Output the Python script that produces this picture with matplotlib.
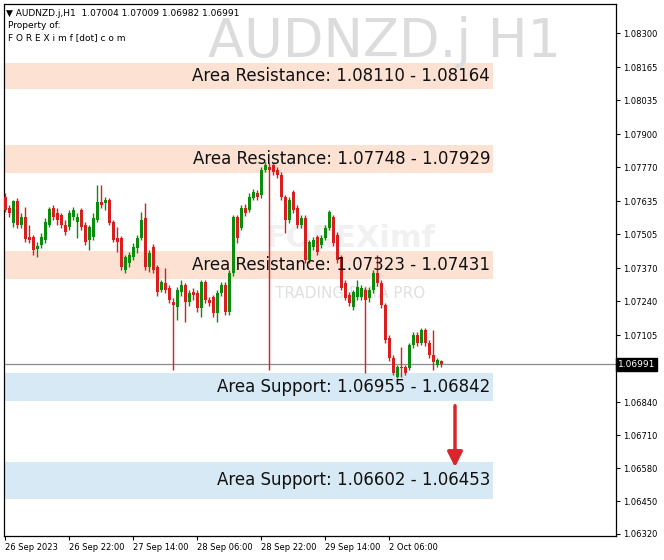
import matplotlib.pyplot as plt
import numpy as np

# hourly candles, 26 Sep 2023 06:00 -> 2 Oct 2023 19:00
opens = [1.07652, 1.07608, 1.07549, 1.07636, 1.07541, 1.07573, 1.07494, 1.07494, 1.07446, 1.07462,
         1.07482, 1.07541, 1.07608, 1.07589, 1.07581, 1.07541, 1.07533, 1.07573, 1.07553, 1.07601,
         1.07541, 1.07482, 1.07494, 1.07561, 1.07632, 1.07628, 1.07640, 1.07553, 1.07490, 1.07490,
         1.07363, 1.07391, 1.07415, 1.07450, 1.07490, 1.07569, 1.07375, 1.07454, 1.07375, 1.07284,
         1.07312, 1.07292, 1.07237, 1.07217, 1.07276, 1.07304, 1.07237, 1.07276, 1.07272, 1.07213,
         1.07316, 1.07245, 1.07257, 1.07193, 1.07272, 1.07304, 1.07197, 1.07352, 1.07573, 1.07529,
         1.07608, 1.07601, 1.07648, 1.07668, 1.07660, 1.07759, 1.07770, 1.07778, 1.07759, 1.07739,
         1.07652, 1.07561, 1.07672, 1.07608, 1.07541, 1.07569, 1.07403, 1.07454, 1.07494, 1.07462,
         1.07490, 1.07529, 1.07573, 1.07502, 1.07415, 1.07312, 1.07265, 1.07217, 1.07257, 1.07257,
         1.07284, 1.07253, 1.07284, 1.07352, 1.07312, 1.07225, 1.07095, 1.07016, 1.06940, 1.06980,
         1.06980, 1.06976, 1.07067, 1.07107, 1.07075, 1.07126, 1.07075, 1.07027, 1.06988, 1.07004]
highs = [1.07668, 1.07620, 1.07640, 1.07648, 1.07589, 1.07612, 1.07541, 1.07502, 1.07474, 1.07510,
         1.07569, 1.07612, 1.07620, 1.07608, 1.07589, 1.07561, 1.07601, 1.07612, 1.07589, 1.07608,
         1.07553, 1.07541, 1.07589, 1.07699, 1.07699, 1.07652, 1.07648, 1.07561, 1.07533, 1.07498,
         1.07423, 1.07435, 1.07470, 1.07502, 1.07593, 1.07628, 1.07442, 1.07466, 1.07383, 1.07324,
         1.07371, 1.07304, 1.07253, 1.07296, 1.07324, 1.07312, 1.07284, 1.07292, 1.07284, 1.07324,
         1.07324, 1.07257, 1.07265, 1.07284, 1.07316, 1.07316, 1.07363, 1.07581, 1.07581, 1.07620,
         1.07624, 1.07668, 1.07683, 1.07680, 1.07770, 1.07790, 1.07786, 1.07786, 1.07770, 1.07751,
         1.07660, 1.07652, 1.07680, 1.07620, 1.07581, 1.07581, 1.07482, 1.07494, 1.07502, 1.07502,
         1.07541, 1.07601, 1.07581, 1.07514, 1.07423, 1.07324, 1.07276, 1.07284, 1.07324, 1.07304,
         1.07296, 1.07296, 1.07363, 1.07423, 1.07324, 1.07233, 1.07107, 1.07027, 1.06988, 1.07059,
         1.06988, 1.07075, 1.07118, 1.07118, 1.07134, 1.07134, 1.07087, 1.07126, 1.07016, 1.07009]
lows = [1.07593, 1.07573, 1.07533, 1.07529, 1.07529, 1.07474, 1.07470, 1.07423, 1.07415, 1.07450,
        1.07470, 1.07533, 1.07561, 1.07541, 1.07529, 1.07502, 1.07521, 1.07561, 1.07490, 1.07521,
        1.07462, 1.07442, 1.07482, 1.07553, 1.07608, 1.07601, 1.07541, 1.07474, 1.07435, 1.07363,
        1.07352, 1.07375, 1.07403, 1.07431, 1.07482, 1.07363, 1.07355, 1.07352, 1.07261, 1.07276,
        1.07272, 1.07233, 1.06968, 1.07166, 1.07261, 1.07158, 1.07221, 1.07245, 1.07197, 1.07178,
        1.07233, 1.07221, 1.07178, 1.07158, 1.07261, 1.07186, 1.07186, 1.07340, 1.07470, 1.07521,
        1.07577, 1.07593, 1.07640, 1.07640, 1.07648, 1.07751, 1.06968, 1.07739, 1.07727, 1.07640,
        1.07510, 1.07549, 1.07589, 1.07529, 1.07529, 1.07391, 1.07391, 1.07442, 1.07423, 1.07450,
        1.07482, 1.07521, 1.07458, 1.07391, 1.07284, 1.07245, 1.07221, 1.07205, 1.07245, 1.07245,
        1.06956, 1.07237, 1.07272, 1.07300, 1.07213, 1.07075, 1.07004, 1.06948, 1.06936, 1.06940,
        1.06948, 1.06968, 1.07055, 1.07063, 1.07067, 1.07063, 1.07016, 1.06968, 1.06980, 1.06982]
closes = [1.07601, 1.07589, 1.07636, 1.07541, 1.07573, 1.07486, 1.07482, 1.07442, 1.07458, 1.07494,
          1.07553, 1.07604, 1.07573, 1.07561, 1.07541, 1.07514, 1.07589, 1.07601, 1.07573, 1.07533,
          1.07474, 1.07533, 1.07569, 1.07632, 1.07620, 1.07640, 1.07549, 1.07482, 1.07474, 1.07375,
          1.07415, 1.07423, 1.07454, 1.07490, 1.07561, 1.07375, 1.07431, 1.07363, 1.07276, 1.07316,
          1.07284, 1.07245, 1.07225, 1.07284, 1.07304, 1.07237, 1.07272, 1.07265, 1.07213, 1.07316,
          1.07245, 1.07233, 1.07193, 1.07272, 1.07304, 1.07197, 1.07352, 1.07573, 1.07490, 1.07608,
          1.07589, 1.07652, 1.07672, 1.07652, 1.07759, 1.07778, 1.07759, 1.07751, 1.07739, 1.07652,
          1.07561, 1.07640, 1.07601, 1.07541, 1.07569, 1.07403, 1.07474, 1.07482, 1.07435, 1.07490,
          1.07529, 1.07593, 1.07470, 1.07403, 1.07292, 1.07253, 1.07233, 1.07276, 1.07296, 1.07292,
          1.07245, 1.07284, 1.07352, 1.07312, 1.07225, 1.07087, 1.07016, 1.06956, 1.06980, 1.06976,
          1.06956, 1.07067, 1.07107, 1.07075, 1.07126, 1.07075, 1.07027, 1.07000, 1.07008, 1.06991]

last_price = 1.06991

# zones: drawn extents and their captions
zone_hi = [1.08181, 1.07857, 1.07438, 1.06956, 1.06605]
zone_lo = [1.08079, 1.07747, 1.07328, 1.06846, 1.06458]
zone_kind = ["res", "res", "res", "sup", "sup"]
zone_text = ["Area Resistance: 1.08110 - 1.08164",
             "Area Resistance: 1.07748 - 1.07929",
             "Area Resistance: 1.07323 - 1.07431",
             "Area Support: 1.06955 - 1.06842",
             "Area Support: 1.06602 - 1.06453"]

price_ticks = [1.08300, 1.08165, 1.08035, 1.07900, 1.07770, 1.07635, 1.07505, 1.07370,
               1.07240, 1.07105, 1.06975, 1.06840, 1.06710, 1.06580, 1.06450, 1.06320]
time_pos = [0, 16, 32, 48, 64, 80, 96]
time_labels = ["26 Sep 2023", "26 Sep 22:00", "27 Sep 14:00", "28 Sep 06:00",
               "28 Sep 22:00", "29 Sep 14:00", "2 Oct 06:00"]

arrow_x = 112.5
arrow_from = 1.06838
arrow_to = 1.06573

fig = plt.figure(figsize=(6.64, 5.6), dpi=100)
ax = fig.add_axes([4 / 664, 24 / 560, 612 / 664, 532 / 560])
ax.set_xlim(-0.25, 152.75)
ax.set_ylim(1.06312, 1.08415)

green = "#0c8c0c"
red = "#d81e1e"

# zones
for hi, lo, kind, txt in zip(zone_hi, zone_lo, zone_kind, zone_text):
    col = "#fde2d4" if kind == "res" else "#d8e9f6"
    ax.fill_between([-0.25, 122], lo, hi, color=col, lw=0, zorder=0)
    ax.text(121.3, (hi + lo) / 2, txt, ha="right", va="center", fontsize=12,
            color="#111111", zorder=5)

# faint watermarks
ax.text(0.565, 0.56, "FOREXimf", transform=ax.transAxes, fontsize=22,
        color="#f1f1f1", ha="center", va="center", fontweight="bold", zorder=0.5)
ax.text(0.565, 0.456, "TRADING DATA PRO", transform=ax.transAxes, fontsize=11,
        color="#e0e0e0", ha="center", va="center", zorder=0.5)
ax.text(0.6225, 0.929, "AUDNZD.j H1", transform=ax.transAxes, fontsize=38,
        color="#dcdcdc", ha="center", va="center", zorder=0.5)

# header
ax.text(0.004, 0.983, "\u25bc AUDNZD.j,H1  1.07004 1.07009 1.06982 1.06991",
        transform=ax.transAxes, fontsize=6.5, va="center", ha="left")
ax.text(0.007, 0.959, "Property of:", transform=ax.transAxes, fontsize=6.5,
        va="center", ha="left")
ax.text(0.007, 0.936, "F O R E X i m f [dot] c o m", transform=ax.transAxes,
        fontsize=6.5, va="center", ha="left")

# candles
x = np.arange(len(closes))
o = np.array(opens)
c = np.array(closes)
cols = [green if cc >= oo else red for oo, cc in zip(o, c)]
ax.vlines(x, lows, highs, colors=cols, lw=1, zorder=3)
bottoms = np.minimum(o, c)
heights = np.maximum(np.abs(c - o), 0.00004)
ax.bar(x, heights, bottom=bottoms, width=0.75, color=cols, lw=0, zorder=4)

# bid line
ax.axhline(last_price, color="#8c8c8c", lw=0.9, zorder=2)

# arrow
ax.annotate("", xy=(arrow_x, arrow_to), xytext=(arrow_x, arrow_from),
            arrowprops=dict(arrowstyle="-|>,head_length=0.9,head_width=0.45",
                            color="#d9262c", lw=2.5), zorder=6)

# axes styling
ax.yaxis.tick_right()
ax.set_yticks(price_ticks)
ax.set_yticklabels(["" if abs(p - last_price) < 0.0003 else f"{p:.5f}" for p in price_ticks])
ax.set_xticks(time_pos)
ax.set_xticklabels(time_labels, ha="left")
ax.tick_params(axis="y", labelsize=6, length=3, pad=2, width=0.8)
ax.tick_params(axis="x", labelsize=6, length=3, pad=2, width=0.8)
for s in ax.spines.values():
    s.set_linewidth(0.9)

ax.text(1.003, last_price, "1.06991", transform=ax.get_yaxis_transform(),
        fontsize=6.5, color="white", va="center", ha="left", zorder=10,
        bbox=dict(boxstyle="square,pad=0.2", fc="black", ec="black"))

fig.savefig("out.png", dpi=100)
